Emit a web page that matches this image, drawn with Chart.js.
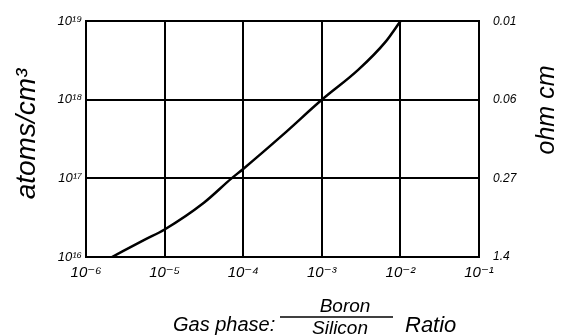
<!DOCTYPE html>
<html>
<head>
<meta charset="utf-8">
<script src="https://cdn.jsdelivr.net/npm/chart.js@4.4.0/dist/chart.umd.min.js"></script>
<style>
html,body{margin:0;padding:0;background:#fff;}
#wrap{width:562px;height:336px;position:relative;}
</style>
</head>
<body>
<div id="wrap"><canvas id="c" width="562" height="336"></canvas></div>
<script>
// Gas phase boron/silicon ratio (x) vs. boron concentration in atoms/cm3 (y)
const gasRatio = [2.14e-6, 5.6e-6, 1e-5, 3.16e-5, 7.1e-5, 1e-4, 3.16e-4, 1e-3, 2.9e-3, 6.5e-3, 1e-2];
const atomsPerCm3 = [1e16, 1.66e16, 2.24e16, 4.9e16, 1e17, 1.32e17, 3.55e17, 1e18, 2.4e18, 5.5e18, 1e19];

const xTickValues = [1e-6, 1e-5, 1e-4, 1e-3, 1e-2, 1e-1];
const xTickLabels = ['10⁻⁶', '10⁻⁵', '10⁻⁴', '10⁻³', '10⁻²', '10⁻¹'];
const yTickValues = [1e16, 1e17, 1e18, 1e19];
const yTickLabels = ['10¹⁶', '10¹⁷', '10¹⁸', '10¹⁹'];
const resistivityLabels = ['1.4', '0.27', '0.06', '0.01'];

const titleLeft = 'atoms/cm³';
const titleRight = 'ohm cm';
const titleBottomA = 'Gas phase:';
const titleFracTop = 'Boron';
const titleFracBottom = 'Silicon';
const titleBottomB = 'Ratio';

const FONT = '"Liberation Sans", "DejaVu Sans", sans-serif';

const titlesPlugin = {
  id: 'titles',
  afterDraw(chart) {
    const ctx = chart.ctx;
    const a = chart.chartArea;
    ctx.save();
    ctx.fillStyle = '#000';
    ctx.strokeStyle = '#000';
    // left title
    ctx.save();
    ctx.translate(27, 134);
    ctx.rotate(-Math.PI / 2);
    ctx.font = 'italic 28px ' + FONT;
    ctx.textAlign = 'center';
    ctx.textBaseline = 'middle';
    ctx.fillText(titleLeft, 0, 0);
    ctx.restore();
    // right title
    ctx.save();
    ctx.translate(547, 110);
    ctx.rotate(-Math.PI / 2);
    ctx.font = 'italic 25px ' + FONT;
    ctx.textAlign = 'center';
    ctx.textBaseline = 'middle';
    ctx.fillText(titleRight, 0, 0);
    ctx.restore();
    // bottom title
    ctx.font = 'italic 20px ' + FONT;
    ctx.textBaseline = 'alphabetic';
    ctx.textAlign = 'left';
    ctx.fillText(titleBottomA, 173, 331);
    ctx.textAlign = 'center';
    ctx.font = 'italic 19px ' + FONT;
    ctx.fillText(titleFracTop, 345, 312);
    ctx.fillText(titleFracBottom, 340, 334);
    ctx.lineWidth = 1.5;
    ctx.beginPath();
    ctx.moveTo(280, 317);
    ctx.lineTo(393, 317);
    ctx.stroke();
    ctx.textAlign = 'left';
    ctx.font = 'italic 22px ' + FONT;
    ctx.fillText(titleBottomB, 405, 332);
    ctx.restore();
  }
};

new Chart(document.getElementById('c'), {
  type: 'scatter',
  data: {
    datasets: [{
      data: gasRatio.map((x, i) => ({x: x, y: atomsPerCm3[i]})),
      showLine: true,
      borderColor: '#000',
      borderWidth: 2.5,
      pointRadius: 0,
      cubicInterpolationMode: 'monotone',
      yAxisID: 'y'
    }]
  },
  options: {
    responsive: false,
    animation: false,
    events: [],
    layout: {padding: {top: 17, left: 0, right: 0, bottom: 0}},
    plugins: {legend: {display: false}, tooltip: {enabled: false}},
    scales: {
      x: {
        type: 'logarithmic',
        min: 1e-6, max: 1e-1,
        afterBuildTicks(s) { s.ticks = xTickValues.map(v => ({value: v})); },
        afterFit(s) { s.height = 79; },
        ticks: {
          callback(v) { const i = xTickValues.indexOf(v); return i >= 0 ? xTickLabels[i] : ''; },
          color: '#000', font: {family: FONT, size: 15, style: 'italic'},
          maxRotation: 0, autoSkip: false, padding: 7
        },
        grid: {color: '#000', lineWidth: 2, drawTicks: false},
        border: {color: '#000', width: 2}
      },
      y: {
        type: 'logarithmic',
        position: 'left',
        min: 1e16, max: 1e19,
        afterBuildTicks(s) { s.ticks = yTickValues.map(v => ({value: v})); },
        afterFit(s) { s.width = 86; },
        ticks: {
          callback(v) { const i = yTickValues.indexOf(v); return i >= 0 ? yTickLabels[i] : ''; },
          color: '#000', font: {family: FONT, size: 13, style: 'italic'},
          autoSkip: false, padding: 4
        },
        grid: {color: '#000', lineWidth: 2, drawTicks: false},
        border: {color: '#000', width: 2}
      },
      y2: {
        type: 'logarithmic',
        position: 'right',
        min: 1e16, max: 1e19,
        afterBuildTicks(s) { s.ticks = yTickValues.map(v => ({value: v})); },
        afterFit(s) { s.width = 83; },
        ticks: {
          callback(v) { const i = yTickValues.indexOf(v); return i >= 0 ? resistivityLabels[i] : ''; },
          color: '#000', font: {family: FONT, size: 12, style: 'italic'},
          autoSkip: false, padding: 14
        },
        grid: {display: false, drawTicks: false},
        border: {color: '#000', width: 2}
      }
    }
  },
  plugins: [titlesPlugin]
});
</script>
</body>
</html>
